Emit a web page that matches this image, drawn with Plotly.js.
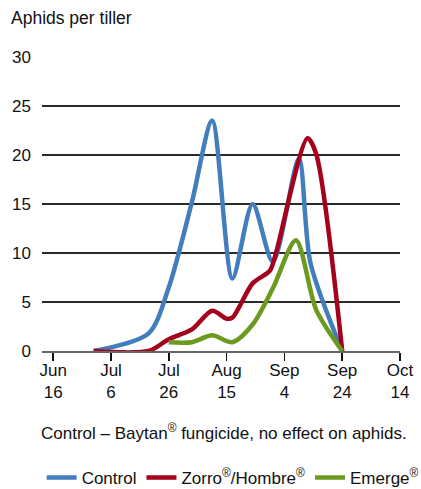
<!DOCTYPE html>
<html>
<head>
<meta charset="utf-8">
<script src="https://cdn.plot.ly/plotly-3.0.1.min.js"></script>
<style>html,body{margin:0;padding:0;background:#fff;}#chart{width:421px;height:489px;}</style>
</head>
<body>
<div id="chart"></div>
<script>
// Data
const controlDates = ['2014-06-30','2014-07-19','2014-07-26','2014-08-03','2014-08-10','2014-08-17','2014-08-24','2014-08-31','2014-09-09','2014-09-13','2014-09-24'];
const controlValues = [0, 1.8, 6.5, 15.2, 23.5, 7.4, 15.0, 9.1, 19.6, 9.0, 0];

const zorroDates = ['2014-06-30','2014-07-19','2014-07-26','2014-08-03','2014-08-10','2014-08-15','2014-08-17','2014-08-24','2014-08-30','2014-09-01','2014-09-12','2014-09-15','2014-09-24'];
const zorroValues = [0, 0, 1.2, 2.2, 4.1, 3.3, 3.4, 6.9, 8.2, 9.9, 21.7, 20.1, 0];

const emergeDates = ['2014-07-26','2014-08-03','2014-08-10','2014-08-17','2014-08-24','2014-08-31','2014-09-08','2014-09-15','2014-09-24'];
const emergeValues = [0.9, 0.9, 1.6, 0.9, 2.7, 6.4, 11.3, 4.2, 0];

const tickDates = ['2014-06-16','2014-07-06','2014-07-26','2014-08-15','2014-09-04','2014-09-24','2014-10-14'];
const tickLabels = ['Jun<br>16','Jul<br>6','Jul<br>26','Aug<br>15','Sep<br>4','Sep<br>24','Oct<br>14'];

const seriesNames = ['Control', 'Zorro<sup>®</sup>/Hombre<sup>®</sup>', 'Emerge<sup>®</sup>'];
const seriesColors = ['#427dbd', '#a5001c', '#6c9a1f'];

const FONT = '"Liberation Sans Narrow", "Arial Narrow", "Liberation Sans", Arial, sans-serif';

function mk(x, y, i) {
  return {
    x: x, y: y, type: 'scatter', mode: 'lines', name: seriesNames[i],
    line: {color: seriesColors[i], width: 4.5, shape: 'spline', smoothing: 0.8},
    hoverinfo: 'skip'
  };
}

const data = [
  mk(controlDates, controlValues, 0),
  mk(zorroDates, zorroValues, 1),
  mk(emergeDates, emergeValues, 2)
];

const layout = {
  width: 421, height: 489,
  margin: {l: 42, r: 21, t: 57, b: 138, autoexpand: false},
  paper_bgcolor: '#fff', plot_bgcolor: '#fff',
  font: {family: FONT, size: 17, color: '#111'},
  showlegend: true,
  legend: {orientation: 'h', x: -0.001, xanchor: 'left', y: -0.432, yanchor: 'middle',
           font: {family: FONT, size: 17, color: '#111'}, itemwidth: 30, tracegroupgap: 0,
           bgcolor: 'rgba(0,0,0,0)'},
  xaxis: {
    type: 'date',
    range: ['2014-06-12 03:00', '2014-10-14'],
    tickvals: tickDates, ticktext: tickLabels,
    showgrid: false, zeroline: false,
    showline: true, linecolor: '#666', linewidth: 1.5,
    ticks: 'outside', ticklen: 8, tickcolor: '#111', tickwidth: 1.5,
    ticklabelstandoff: -5,
    tickfont: {family: FONT, size: 17, color: '#111'},
    fixedrange: true
  },
  yaxis: {
    range: [0, 30], tickvals: [0,5,10,15,20,25,30],
    showgrid: true, gridcolor: '#2a2a2a', gridwidth: 1.2,
    zeroline: false, showline: false, ticks: '',
    ticklabelstandoff: 10,
    tickfont: {family: FONT, size: 17, color: '#111'},
    fixedrange: true
  },
  annotations: [
    {text: 'Aphids per tiller', xref: 'paper', yref: 'paper', x: -0.092, y: 1.133,
     xanchor: 'left', yanchor: 'middle', showarrow: false, font: {family: FONT, size: 17.5, color: '#111'}},
    {text: 'Control – Baytan<sup>®</sup> fungicide, no effect on aphids.', xref: 'paper', yref: 'paper',
     x: 0.508, y: -0.276, xanchor: 'center', yanchor: 'middle', showarrow: false,
     font: {family: FONT, size: 17, color: '#111'}}
  ]
};

Plotly.newPlot('chart', data, layout, {displayModeBar: false, staticPlot: true});
</script>
</body>
</html>
